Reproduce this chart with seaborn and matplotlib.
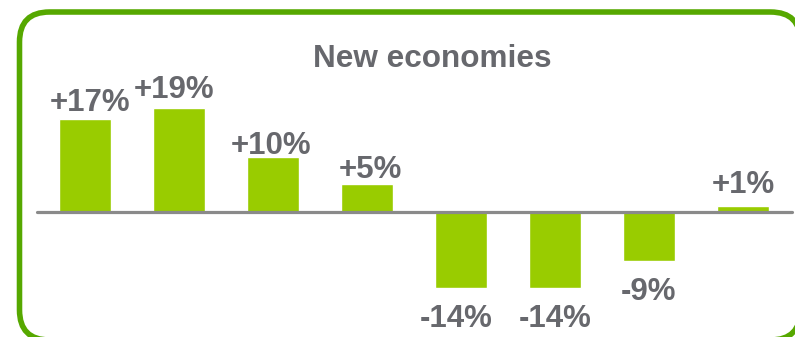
import matplotlib
matplotlib.use("Agg")
import matplotlib.pyplot as plt
from matplotlib.patches import FancyBboxPatch
import seaborn as sns
import pandas as pd

# Year-on-year change per segment (percent)
segments = ["S1", "S2", "S3", "S4", "S5", "S6", "S7", "S8"]
changes = [17, 19, 10, 5, -14, -14, -9, 1]
value_labels = ["+17%", "+19%", "+10%", "+5%", "-14%", "-14%", "-9%", "+1%"]
title = "New economies"

BAR_GREEN = "#99CC00"
FRAME_GREEN = "#56A800"
TEXT_GREY = "#67686D"
LINE_GREY = "#8A8A8A"

sns.set_theme(style="white")
plt.rcParams["font.family"] = ["Liberation Sans", "DejaVu Sans"]
plt.rcParams["savefig.bbox"] = "standard"

W, H, DPI = 795, 337, 100
PT = 72.0 / DPI  # points per pixel
fig = plt.figure(figsize=(W / DPI, H / DPI), dpi=DPI)

# background panel holding the rounded frame, drawn in pixel units
ov = fig.add_axes([0, 0, 1, 1], label="frame")
ov.set_zorder(0)
ov.set_xlim(0, W)
ov.set_ylim(0, H)
ov.set_axis_off()
left, right, bottom, top = 19.5, 800.5, -3, 325
frame = FancyBboxPatch((left, bottom), right - left, top - bottom,
                       boxstyle="round,pad=0,rounding_size=30",
                       facecolor="white", edgecolor=FRAME_GREEN, lw=4.0)
ov.add_patch(frame)

# chart axes on top of the panel
ax = fig.add_axes([0, 0, 1, 1], label="bars")
ax.set_zorder(1)

df = pd.DataFrame({"segment": segments, "change": changes})
sns.barplot(data=df, x="segment", y="change", color=BAR_GREEN,
            saturation=1, width=0.555, ax=ax, zorder=2)

# scale: zero line ~212 px from the top, ~5.45 px per percent
px_per_unit = 5.45
ymax = 211.7 / px_per_unit
ax.set_ylim(ymax - H / px_per_unit, ymax)
step = 94.0
xmin = -85.0 / step
ax.set_xlim(xmin, xmin + W / step)
ax.set_axis_off()
ax.patch.set_visible(False)

# zero baseline
ax.axhline(0, xmin=37 / W, xmax=792 / W, color=LINE_GREY, lw=2.3, zorder=3)

# value labels (baseline-anchored, nudged in pixels)
lift = [8, 10, 3, 6.5, -39, -39, -39, 13]
shift = [5, -5, -2, 3, -4.5, 0, 0, 0]
for i, (v, lab) in enumerate(zip(changes, value_labels)):
    ax.annotate(lab, (i, v), xytext=(shift[i] * PT, lift[i] * PT),
                textcoords="offset points", ha="center", va="baseline",
                fontsize=22.5, fontweight="bold", color=TEXT_GREY)

fig.text(432 / W, 1 - 67.3 / H, title, ha="center", va="baseline",
         fontsize=22.7, fontweight="bold", color=TEXT_GREY, zorder=5)

fig.savefig("out.png", dpi=DPI, facecolor="white")
